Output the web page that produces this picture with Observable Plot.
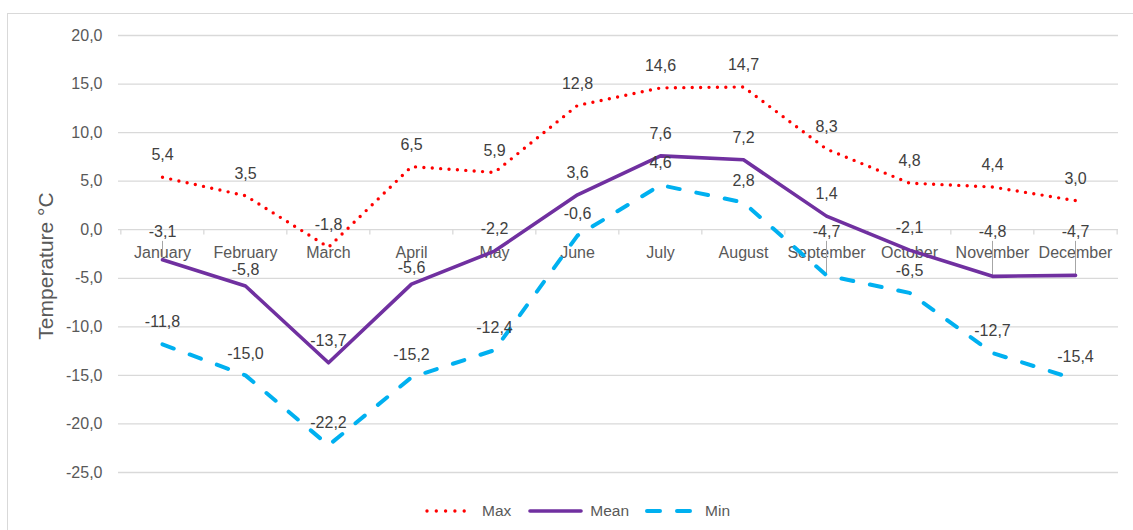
<!DOCTYPE html>
<html>
<head>
<meta charset="utf-8">
<script src="https://cdn.jsdelivr.net/npm/d3@7"></script>
<script src="https://cdn.jsdelivr.net/npm/@observablehq/plot@0.6"></script>
<style>
  html, body { margin: 0; padding: 0; background: #fff; overflow: hidden; }
  body { width: 1133px; height: 530px; position: relative; font-family: "Liberation Sans", Arial, sans-serif; }
  #frame { position: absolute; left: 7px; top: 13px; width: 1140px; height: 530px; border: 1px solid #d9d9d9; box-sizing: border-box; }
  #chart { position: absolute; left: 0; top: 0; }
  #legend { position: absolute; left: 425px; top: 502px; display: flex; align-items: center; font-size: 15.5px; color: #595959; }
  #legend .item { display: flex; align-items: center; }
  #legend svg { display: block; }
</style>
</head>
<body>
<div id="frame"></div>
<div id="chart"></div>
<div id="legend"></div>
<script>
const months = ["January","February","March","April","May","June","July","August","September","October","November","December"];
const maxValues  = [5.4, 3.5, -1.8, 6.5, 5.9, 12.8, 14.6, 14.7, 8.3, 4.8, 4.4, 3.0];
const meanValues = [-3.1, -5.8, -13.7, -5.6, -2.2, 3.6, 7.6, 7.2, 1.4, -2.1, -4.8, -4.7];
const minValues  = [-11.8, -15.0, -22.2, -15.2, -12.4, -0.6, 4.6, 2.8, -4.7, -6.5, -12.7, -15.4];
const yTicks = [20, 15, 10, 5, 0, -5, -10, -15, -20, -25];
const seriesNames = ["Max", "Mean", "Min"];

const styles = {
  Max:  {stroke: "#FF0000", strokeWidth: 3.4, strokeDasharray: "0 8.4", strokeLinecap: "round"},
  Mean: {stroke: "#7030A0", strokeWidth: 3.6, strokeDasharray: null, strokeLinecap: "round"},
  Min:  {stroke: "#00B0F0", strokeWidth: 4, strokeDasharray: "12 17", strokeLinecap: "round"}
};

const series = {Max: maxValues, Mean: meanValues, Min: minValues};
const data = seriesNames.flatMap(s => months.map((m, i) => ({series: s, month: m, value: series[s][i]})));

const fmt = v => v.toFixed(1).replace(".", ",").replace("-0,0", "0,0");
// labels that would collide with the month labels are moved out of the month-label band
const lifted = d => d.value <= -3 && d.value >= -5;       // lifted up to the axis line, with a leader line
const nudged = d => d.value < -5 && d.value >= -6;        // kept closer to the point, below the month labels
const normal = d => !lifted(d) && !nudged(d);

const W = 1133, ML = 118, MR = 15;
const step = (W - ML - MR) / months.length;

const plot = Plot.plot({
  width: W,
  height: 490,
  marginLeft: ML,
  marginRight: MR,
  marginTop: 35,
  marginBottom: 18,
  style: {fontFamily: "'Liberation Sans', Arial, sans-serif", fontSize: "16px", color: "#595959", background: "transparent"},
  x: {type: "point", domain: months, padding: 0.5, axis: null},
  y: {domain: [-25, 20], axis: null},
  marks: [
    Plot.ruleY(yTicks, {stroke: "#d9d9d9", strokeWidth: 1.3}),
    Plot.ruleX(months, {x: d => d, y1: 0, y2: -0.55, dx: -step / 2, stroke: "#d9d9d9", strokeWidth: 1.3}),
    Plot.ruleX(months.slice(-1), {x: d => d, y1: 0, y2: -0.55, dx: step / 2, stroke: "#d9d9d9", strokeWidth: 1.3}),
    Plot.axisY({ticks: yTicks, tickSize: 0, tickPadding: 16, tickFormat: fmt, fontSize: 16, fill: "#595959", label: null}),
    Plot.text(["Temperature °C"], {text: d => d, frameAnchor: "left", textAnchor: "middle", rotate: -90, dx: -72, dy: 12, fontSize: 21, fill: "#595959"}),
    Plot.text(months, {x: d => d, y: 0, dy: 23, text: d => d, fontSize: 16, fill: "#595959"}),
    Plot.ruleX(data.filter(lifted), {x: "month", y1: -1.2, y2: "value", stroke: "#a6a6a6", strokeWidth: 1}),
    ...seriesNames.map(s => Plot.line(data.filter(d => d.series === s), {x: "month", y: "value", ...styles[s], strokeLinejoin: "round"})),
    Plot.text(data.filter(normal), {x: "month", y: "value", dy: -22, text: d => fmt(d.value), fontSize: 16, fill: "#404040"}),
    Plot.text(data.filter(nudged), {x: "month", y: "value", dy: -16, text: d => fmt(d.value), fontSize: 16, fill: "#404040"}),
    Plot.text(data.filter(lifted), {x: "month", y: 0, dy: 2, text: d => fmt(d.value), fontSize: 16, fill: "#404040"})
  ]
});
document.getElementById("chart").appendChild(plot);

// legend
const legend = document.getElementById("legend");
const swatchW = {Max: 50, Mean: 55, Min: 50};
const gapAfter = {Max: 17, Mean: 16, Min: 0};
seriesNames.forEach(s => {
  const st = styles[s];
  const item = document.createElement("div");
  item.className = "item";
  item.style.marginRight = gapAfter[s] + "px";
  const w = swatchW[s];
  const dash = s === "Max" ? "0 9.3" : s === "Min" ? "13 17" : null;
  item.innerHTML = `<svg width="${w}" height="12"><line x1="2" x2="${w - 2}" y1="6" y2="6" stroke="${st.stroke}" stroke-width="${st.strokeWidth}" stroke-linecap="round" ${dash ? `stroke-dasharray="${dash}"` : ""}/></svg><span style="margin-left:${s === "Min" ? 10 : 7}px">${s}</span>`;
  legend.appendChild(item);
});
</script>
</body>
</html>
